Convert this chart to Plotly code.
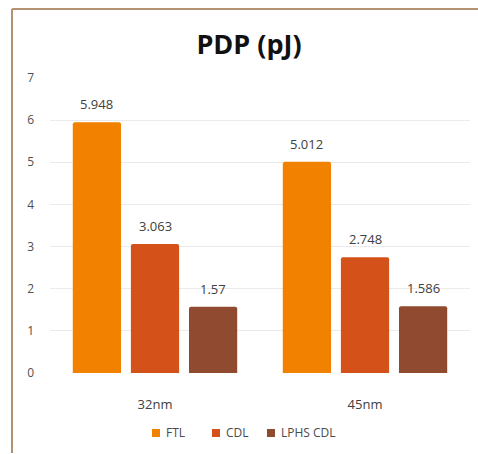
import plotly.graph_objects as go

nodes = ["32nm", "45nm"]
ftl = [5.948, 5.012]
cdl = [3.063, 2.748]
lphs_cdl = [1.57, 1.586]
y_ticks = [0, 1, 2, 3, 4, 5, 6, 7]

series = [
    ("FTL", ftl, "#F28100"),
    ("CDL", cdl, "#D4521A"),
    ("LPHS CDL", lphs_cdl, "#8F4A30"),
]

W, H = 478, 454
ml, mr, mt, mb = 50, 8, 78, 81
pw, ph = W - ml - mr, H - mt - mb


def px_x(x):
    return (x - ml) / pw


def px_y(y):
    return (mt + ph - y) / ph


bargap = 0.17
groupgap = 0.17
slot = (1 - bargap) / len(series)

fig = go.Figure()
annotations = []
shapes = []
for i, (name, vals, color) in enumerate(series):
    fig.add_trace(go.Bar(
        name=name,
        x=nodes,
        y=vals,
        marker=dict(color=color, line=dict(width=0)),
    ))
    # value labels above each bar
    for j, v in enumerate(vals):
        annotations.append(dict(
            x=j - (1 - bargap) / 2 + slot * (i + 0.5), xref="x",
            y=v, yref="y",
            text=f"{v:g}", showarrow=False,
            yanchor="bottom", yshift=7,
            font=dict(family="Open Sans, sans-serif", size=13, color="#404040"),
        ))

# compact legend row beneath the axis
legend_x = [152, 212, 267]
legend_y = 433
for (name, _, color), lx in zip(series, legend_x):
    shapes.append(dict(
        type="rect", xref="paper", yref="paper",
        x0=px_x(lx), x1=px_x(lx + 8),
        y0=px_y(legend_y - 4), y1=px_y(legend_y + 4),
        fillcolor=color, line=dict(width=0),
    ))
    annotations.append(dict(
        x=px_x(lx + 12), xref="paper", xanchor="left",
        y=px_y(legend_y), yref="paper", yanchor="middle",
        text=name, showarrow=False,
        font=dict(family="Open Sans, sans-serif", size=12, color="#4a4a4a"),
    ))

# chart frame (left and top edges)
frame = "#B39274"
shapes += [
    dict(type="line", xref="paper", yref="paper",
         x0=px_x(12), x1=px_x(12), y0=px_y(9), y1=px_y(H - 1),
         line=dict(color=frame, width=2)),
    dict(type="line", xref="paper", yref="paper",
         x0=px_x(12), x1=px_x(W), y0=px_y(9), y1=px_y(9),
         line=dict(color=frame, width=2)),
]

fig.update_layout(
    width=W, height=H,
    margin=dict(l=ml, r=mr, t=mt, b=mb),
    paper_bgcolor="white",
    plot_bgcolor="white",
    barmode="group",
    bargap=bargap,
    bargroupgap=groupgap,
    barcornerradius=2,
    title=dict(
        text="<b>PDP (pJ)</b>",
        x=px_x(249), xref="paper", xanchor="center",
        y=1 - 45 / H, yanchor="middle",
        font=dict(family="Open Sans, sans-serif", size=27, color="#111111"),
    ),
    showlegend=False,
    xaxis=dict(
        showgrid=False, zeroline=False, showline=False, ticks="",
        ticklabelstandoff=22,
        tickfont=dict(family="Open Sans, sans-serif", size=13, color="#404040"),
    ),
    yaxis=dict(
        range=[0, 7],
        tickvals=y_ticks,
        showgrid=True, gridcolor="#EBEBEB", gridwidth=1,
        zeroline=False, showline=False, ticks="",
        ticklabelstandoff=15,
        tickfont=dict(family="Open Sans, sans-serif", size=12, color="#505050"),
    ),
    annotations=annotations,
    shapes=shapes,
)

fig.write_html("out.html")
